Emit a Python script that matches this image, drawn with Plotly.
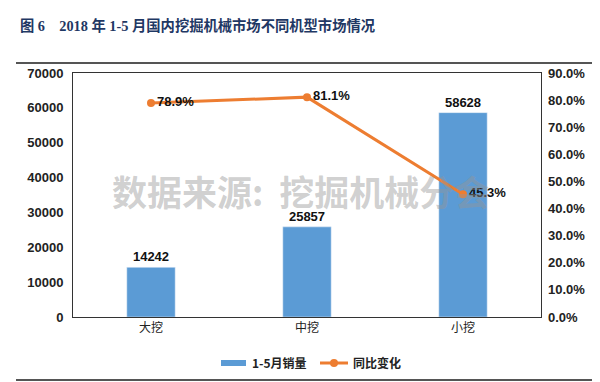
import plotly.graph_objects as go

categories = ["大挖", "中挖", "小挖"]
sales = [14242, 25857, 58628]
yoy = [78.9, 81.1, 45.3]
left_ticks = [0, 10000, 20000, 30000, 40000, 50000, 60000, 70000]
right_ticks = [0, 10, 20, 30, 40, 50, 60, 70, 80, 90]

L, R, T, B = 65, 67, 65, 73
W, H = 600, 382
pw, ph = W - L - R, H - T - B

def px(x):
    return (x - L) / pw

def py(y):
    return (H - B - y) / ph

font_main = "Liberation Sans, Arial, Noto Sans CJK SC, sans-serif"
font_cjk = "Noto Sans CJK SC, Liberation Sans, sans-serif"

fig = go.Figure()
fig.add_trace(go.Bar(
    x=categories, y=sales, name="1-5月销量",
    marker_color="#5B9BD5", width=0.31,
    text=[f"<b>{v}</b>" for v in sales], textposition="outside",
    textfont=dict(family=font_main, size=13, color="#111"),
    cliponaxis=False, showlegend=False,
))
fig.add_trace(go.Scatter(
    x=categories, y=yoy, name="同比变化", yaxis="y2",
    mode="lines+markers+text",
    line=dict(color="#ED7D31", width=3),
    marker=dict(color="#ED7D31", size=8),
    text=[f"<b>{v:.1f}%</b>" for v in yoy], textposition="middle right",
    textfont=dict(family=font_main, size=13, color="#111"),
    cliponaxis=False, showlegend=False,
))

ly = py(355)
fig.update_layout(
    width=W, height=H,
    margin=dict(l=L, r=R, t=T, b=B),
    paper_bgcolor="white", plot_bgcolor="white",
    showlegend=False,
    xaxis=dict(showline=True, linecolor="#333", linewidth=1, mirror=True,
               ticks="", tickfont=dict(family=font_cjk, size=12, color="#222")),
    yaxis=dict(range=[0, 70000], tickvals=left_ticks, ticktext=[f"<b>{v}</b>" for v in left_ticks],
               showgrid=False, zeroline=False,
               showline=True, linecolor="#333", linewidth=1, mirror=True,
               tickfont=dict(family=font_main, size=13, color="#222"), ticks="",
               ticklabelstandoff=6),
    yaxis2=dict(range=[0, 90], tickvals=right_ticks, overlaying="y", side="right",
                ticktext=[f"<b>{v:.1f}%</b>" for v in right_ticks], showgrid=False, zeroline=False,
                tickfont=dict(family=font_main, size=13, color="#222"), ticks="",
                ticklabelstandoff=6),
    shapes=[
        dict(type="line", xref="paper", yref="paper", x0=px(8), x1=px(592), y0=py(55), y1=py(55),
             line=dict(color="#555", width=2)),
        dict(type="line", xref="paper", yref="paper", x0=px(8), x1=px(592), y0=py(372), y1=py(372),
             line=dict(color="#555", width=2)),
        # legend symbols
        dict(type="rect", xref="paper", yref="paper", x0=px(213), x1=px(238), y0=py(352), y1=py(358),
             fillcolor="#5B9BD5", line=dict(width=0)),
        dict(type="line", xref="paper", yref="paper", x0=px(312), x1=px(340), y0=ly, y1=ly,
             line=dict(color="#ED7D31", width=3)),
        dict(type="circle", xref="paper", yref="paper", x0=px(322), x1=px(330), y0=py(351), y1=py(359),
             fillcolor="#ED7D31", line=dict(width=0)),
    ],
    annotations=[
        dict(text="<b>图 6　2018 年 1-5 月国内挖掘机械市场不同机型市场情况</b>",
             xref="paper", yref="paper", x=px(10), y=py(18), xanchor="left", yanchor="middle",
             showarrow=False, font=dict(family="Liberation Serif, Noto Sans CJK SC, serif", size=14.3, color="#1F3864")),
        dict(text="<b>数据来源:\u00a0\u00a0挖掘机械分会</b>", xref="paper", yref="paper",
             x=px(292), y=py(182), xanchor="center", yanchor="middle", showarrow=False,
             font=dict(family=font_cjk, size=35, color="rgba(150,150,150,0.45)")),
        dict(text="<b>1-5月销量</b>", xref="paper", yref="paper", x=px(242), y=ly,
             xanchor="left", yanchor="middle", showarrow=False,
             font=dict(family=font_cjk, size=12, color="#222")),
        dict(text="<b>同比变化</b>", xref="paper", yref="paper", x=px(343), y=ly,
             xanchor="left", yanchor="middle", showarrow=False,
             font=dict(family=font_cjk, size=12, color="#222")),
    ],
)

fig.write_html("out.html")
